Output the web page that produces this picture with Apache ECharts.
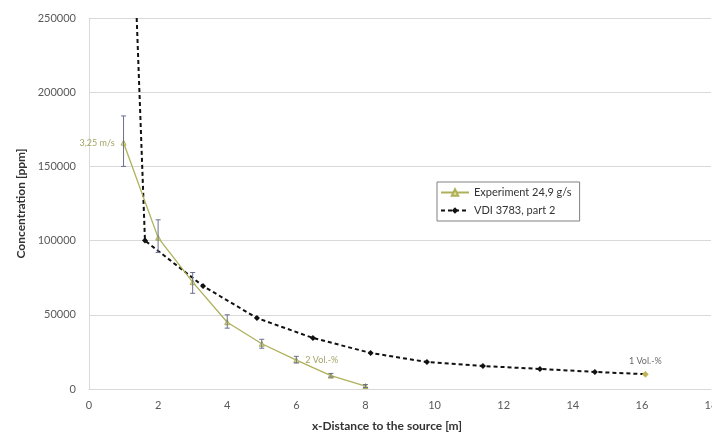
<!DOCTYPE html>
<html>
<head>
<meta charset="utf-8">
<script src="https://cdn.jsdelivr.net/npm/echarts@6/dist/echarts.min.js"></script>
<style>html,body{margin:0;padding:0;background:#fff}#c{width:712px;height:436px}</style>
</head>
<body>
<div id="c"></div>
<script>
// ---- data ----
const expX = [1, 2, 3, 4, 5, 6, 7, 8];
const expY = [166000, 102000, 72000, 45000, 30500, 19500, 9000, 2000];
const errLow = [150000, 92000, 64500, 41000, 27500, 17500, 8000, 1000];
const errHigh = [184000, 114000, 78500, 50000, 33500, 22000, 10500, 3000];
const expLabels = ['3,25 m/s', '', '', '', '', '2 Vol.-%', '', ''];
const expLabelPos = ['left', '', '', '', '', 'right', '', ''];
const vdiX = [1.38, 1.62, 3.3, 4.86, 6.48, 8.15, 9.78, 11.4, 13.05, 14.64, 16.1];
const vdiY = [250000, 100000, 69400, 47800, 34400, 24300, 18200, 15500, 13500, 11500, 10000];
const extraX = [16.1];
const extraY = [10000];
const extraLabels = ['1 Vol.-%'];
const seriesNames = ['Experiment 24,9 g/s', 'VDI 3783, part 2'];
const xTicks = [0, 2, 4, 6, 8, 10, 12, 14, 16, 18];
const yTicks = [0, 50000, 100000, 150000, 200000, 250000];

const FONT = 'Lato, "Open Sans", sans-serif';
const OLIVE = '#aeb05a';

const chart = echarts.init(document.getElementById('c'), null, {renderer: 'canvas'});
chart.setOption({
  animation: false,
  backgroundColor: '#fff',
  textStyle: {fontFamily: FONT},
  grid: {left: 89, right: 1, top: 18, bottom: 47, containLabel: false, outerBoundsMode: 'none'},
  legend: {
    data: seriesNames,
    orient: 'vertical',
    left: 437, top: 182,
    width: 155,
    itemWidth: 28, itemHeight: 8, itemGap: 7,
    padding: [5, 8, 5, 3],
    borderColor: '#808080', borderWidth: 1,
    textStyle: {fontFamily: FONT, fontSize: 11, color: '#333'}
  },
  xAxis: {
    type: 'value', min: xTicks[0], max: xTicks[xTicks.length - 1], interval: 2,
    name: 'x-Distance to the source [m]', nameLocation: 'middle', nameGap: 31,
    nameTextStyle: {fontFamily: FONT, fontSize: 12, fontWeight: 'bold', color: '#333', padding: [0, 26, 0, 0]},
    axisLine: {show: true, lineStyle: {color: '#d9d9d9'}},
    axisTick: {show: false},
    axisLabel: {color: '#595959', fontSize: 11, margin: 11},
    splitLine: {show: false}
  },
  yAxis: {
    type: 'value', min: yTicks[0], max: yTicks[yTicks.length - 1], interval: 50000,
    name: 'Concentration [ppm]', nameLocation: 'middle', nameGap: 62,
    nameTextStyle: {fontFamily: FONT, fontSize: 12, fontWeight: 'bold', color: '#333'},
    axisLine: {show: true, lineStyle: {color: '#d9d9d9'}},
    axisTick: {show: false},
    axisLabel: {color: '#595959', fontSize: 11, margin: 13, formatter: v => String(v)},
    splitLine: {show: true, lineStyle: {color: '#d9d9d9', width: 1}}
  },
  series: [
    {
      name: seriesNames[1],
      type: 'line',
      data: vdiX.map((x, i) => [x, vdiY[i]]),
      z: 3,
      lineStyle: {color: '#111', width: 2, type: [4, 3]},
      itemStyle: {color: '#111'},
      symbol: 'diamond',
      symbolSize: (v, p) => (p.dataIndex === 0 ? 0 : 6)
    },
    {
      name: seriesNames[0],
      type: 'line',
      data: expX.map((x, i) => ({
        value: [x, expY[i]],
        label: {show: !!expLabels[i], formatter: expLabels[i], position: expLabelPos[i] || 'left'}
      })),
      z: 4,
      lineStyle: {color: OLIVE, width: 1.3},
      itemStyle: {color: '#e6e39a', borderColor: OLIVE, borderWidth: 1},
      symbol: 'triangle',
      symbolSize: 5,
      label: {distance: 6, fontSize: 9, color: '#a3a467', fontFamily: FONT}
    },
    {
      name: 'errors',
      type: 'custom',
      z: 5,
      data: expX.map((x, i) => [x, errLow[i], errHigh[i]]),
      renderItem: function (params, api) {
        const x = api.value(0);
        const lo = api.coord([x, api.value(1)]);
        const hi = api.coord([x, api.value(2)]);
        const w = 2.5;
        const st = {stroke: '#6a6f8c', lineWidth: 1};
        return {
          type: 'group',
          children: [
            {type: 'line', shape: {x1: hi[0], y1: hi[1], x2: lo[0], y2: lo[1]}, style: st},
            {type: 'line', shape: {x1: hi[0] - w, y1: hi[1], x2: hi[0] + w, y2: hi[1]}, style: st},
            {type: 'line', shape: {x1: lo[0] - w, y1: lo[1], x2: lo[0] + w, y2: lo[1]}, style: st}
          ]
        };
      }
    },
    {
      name: 'end point',
      type: 'scatter',
      z: 6,
      data: extraX.map((x, i) => ({value: [x, extraY[i]], label: {show: true, formatter: extraLabels[i]}})),
      symbol: 'diamond',
      symbolSize: 7,
      itemStyle: {color: '#e8dc6a'},
      label: {position: 'top', distance: 5, fontSize: 9, color: '#444', fontFamily: FONT}
    }
  ]
});
</script>
</body>
</html>
